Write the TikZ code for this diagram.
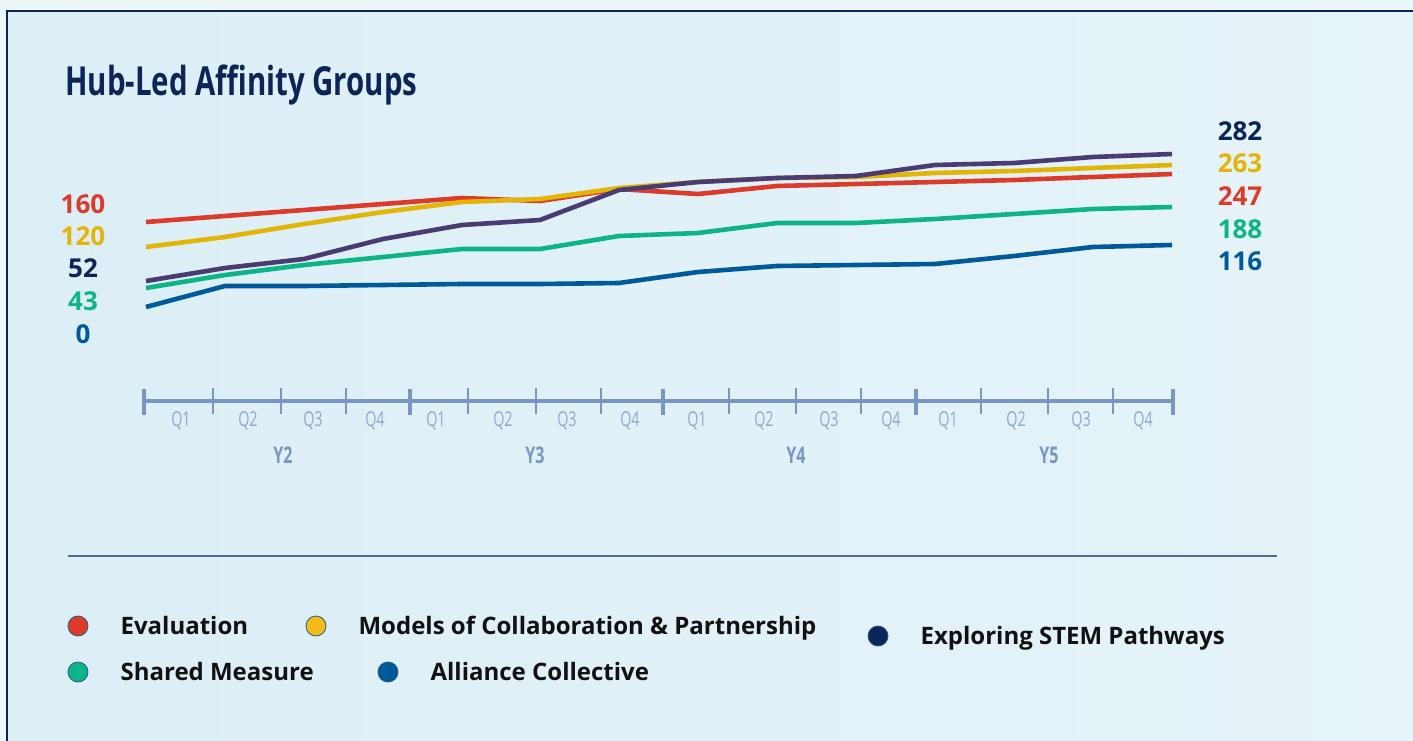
\documentclass[tikz,border=0pt]{standalone}
\usepackage{fontspec}
\setmainfont{Open Sans}
\newfontfamily\condfont[FakeStretch=0.7]{Open Sans}
\newfontfamily\titlefont[FakeStretch=0.735]{Open Sans}
\usetikzlibrary{positioning}

\definecolor{navy}{HTML}{0B2556}
\definecolor{evalred}{HTML}{DC3B2A}
\definecolor{modyellow}{HTML}{E2B507}
\definecolor{dotyellow}{HTML}{F8BA17}
\definecolor{stempurple}{HTML}{4A3B73}
\definecolor{sharedgreen}{HTML}{0DB585}
\definecolor{allblue}{HTML}{00599B}
\definecolor{axisblue}{HTML}{7896C6}
\definecolor{qgray}{HTML}{8FA8D2}
\definecolor{rulegray}{HTML}{4D6C96}
\definecolor{dotrim}{HTML}{1F5E8E}
\definecolor{legblack}{HTML}{111111}
\definecolor{bgleft}{HTML}{DCEEF6}
\definecolor{bgright}{HTML}{E6F4F9}
\definecolor{outside}{HTML}{EBF6F9}

\begin{document}
\begin{tikzpicture}[x=1pt,y=-1pt,
    series/.style={line width=4.6pt,line join=round},
    qlabel/.style={text=qgray,font=\condfont\fontsize{20.5}{22}\selectfont},
    ylabel/.style={text=axisblue,font=\condfont\bfseries\fontsize{23}{25}\selectfont},
    value/.style={font=\bfseries\fontsize{26}{30}\selectfont,inner sep=0pt}]
        \tikzstyle{dot}=[circle,minimum size=20pt,inner sep=0pt,draw=dotrim,line width=0.8pt]
        \tikzstyle{legtext}=[font=\bfseries\fontsize{24}{28}\selectfont,text=legblack,
                             inner sep=0pt,text height=17pt,text depth=0pt]

        % page and frame
        \useasboundingbox (0,0) rectangle (1413,741);
        \fill[outside] (0,0) rectangle (1413,741);
        \shade[left color=bgleft,right color=bgright,draw=navy,line width=2.4pt]
            (7,11) rectangle (1430,760);

        \node[anchor=base west,inner sep=0pt,text=navy,
              font=\titlefont\bfseries\fontsize{40}{44}\selectfont] (title) at (65,96)
              {Hub-Led Affinity Groups};

        % data lines
        \draw[series,evalred] plot coordinates {(146,222) (225,216) (304,210) (383,204)
            (462,198) (540,201) (619,189) (698,194) (777,186) (856,184) (935,182)
            (1014,180) (1093,177) (1172,174)};
        \draw[series,modyellow] plot coordinates {(146,247) (225,237) (304,224) (383,212)
            (462,202) (540,199) (619,188) (698,182) (777,178) (856,177) (935,173)
            (1014,171) (1093,168) (1172,165)};
        \draw[series,sharedgreen] plot coordinates {(146,288) (225,275) (304,265) (383,257)
            (462,249) (540,249) (619,236) (698,233) (777,223) (856,223) (935,219)
            (1014,214) (1093,209) (1172,207)};
        \draw[series,allblue] plot coordinates {(146,307) (225,286) (304,286) (383,285)
            (462,284) (540,284) (619,283) (698,272) (777,266) (856,265) (935,264)
            (1014,256) (1093,247) (1172,245)};
        \draw[series,stempurple] plot coordinates {(146,281) (225,268) (304,259) (383,239)
            (462,225) (540,220) (619,190) (698,182) (777,178) (856,176) (935,165)
            (1014,163) (1093,157) (1172,154)};

        % start and end values
        \node[value,text=evalred]     (s1) at (83,204) {160};
        \node[value,text=modyellow]   (s2) at (83,236) {120};
        \node[value,text=navy]        (s3) at (83,268) {52};
        \node[value,text=sharedgreen] (s4) at (83,301) {43};
        \node[value,text=allblue]     (s5) at (83,334) {0};

        \node[value,text=navy]        (e1) at (1240,131) {282};
        \node[value,text=modyellow]   (e2) at (1240,163) {263};
        \node[value,text=evalred]     (e3) at (1240,196) {247};
        \node[value,text=sharedgreen] (e4) at (1240,229) {188};
        \node[value,text=allblue]     (e5) at (1240,261) {116};

        % time axis
        \draw[axisblue,line width=4.6pt] (144,401) -- (1173,401);
        \foreach \x in {213,281,346,468,536,601,729,796,861,981,1048,1113}
            \draw[axisblue,line width=1.2pt] (\x,388) -- (\x,414);
        \foreach \x in {144,410,663,916,1173}
            \draw[axisblue,line width=4pt] (\x,389) -- (\x,415);
        \foreach \x [count=\i from 0] in {181,248,313,375,436,503,567,630,
                                          697,764,829,891,948,1016,1081,1143} {
            \pgfmathtruncatemacro{\q}{mod(\i,4)+1}
            \node[qlabel] (q\i) at (\x,421) {Q\q};
        }
        \foreach \x/\y in {283/2,535/3,796/4,1049/5}
            \node[ylabel] (y\y) at (\x,455) {Y\y};

        \draw[rulegray,line width=2pt] (68,556) -- (1277,556);

        % legend
        \node[dot,fill=evalred]     (d1) at (78,626)  {};
        \node[dot,fill=dotyellow]   (d2) at (316,626) {};
        \node[dot,fill=navy]        (d3) at (878,636) {};
        \node[dot,fill=sharedgreen] (d4) at (78,672)  {};
        \node[dot,fill=allblue]     (d5) at (388,672) {};

        \node[legtext,right=32pt of d1] (l1) {Evaluation};
        \node[legtext,right=32pt of d2] (l2) {Models of Collaboration \& Partnership};
        \node[legtext,right=32pt of d3] (l3) {Exploring STEM Pathways};
        \node[legtext,right=32pt of d4] (l4) {Shared Measure};
        \node[legtext,right=32pt of d5] (l5) {Alliance Collective};
\end{tikzpicture}
\end{document}
